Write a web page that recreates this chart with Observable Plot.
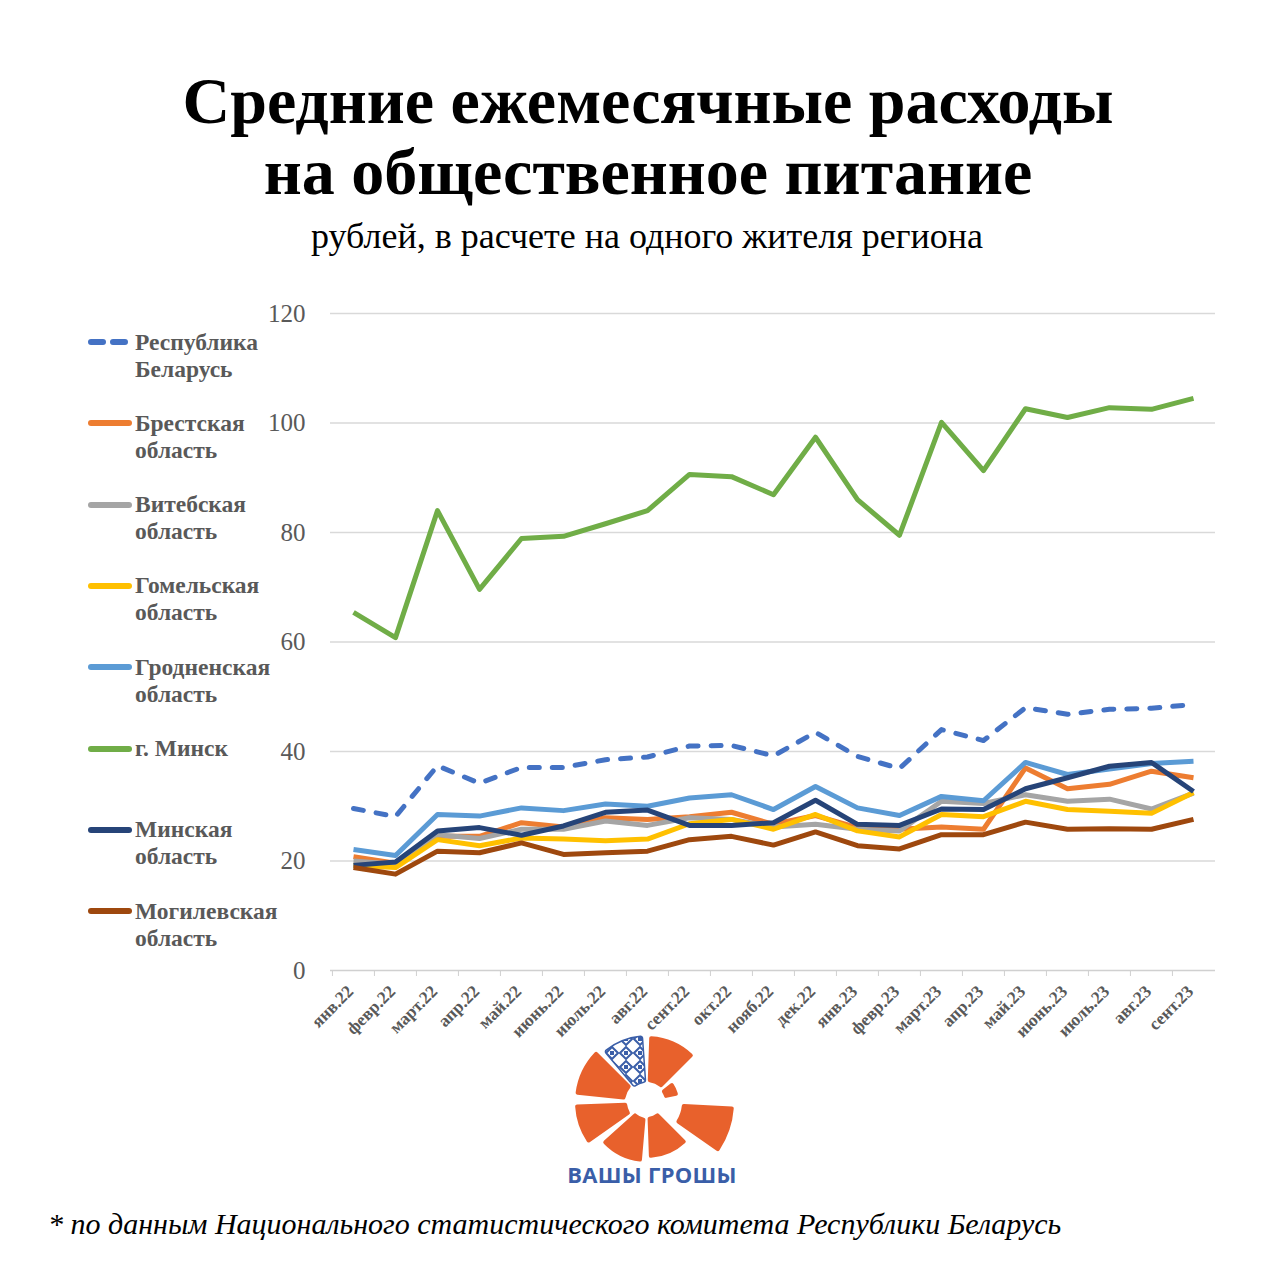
<!DOCTYPE html>
<html>
<head>
<meta charset="utf-8">
<script src="https://cdn.jsdelivr.net/npm/d3@7"></script>
<script src="https://cdn.jsdelivr.net/npm/@observablehq/plot@0.6"></script>
<style>
  html, body { margin: 0; padding: 0; background: #fff; }
  #page { position: relative; width: 1280px; height: 1280px; overflow: hidden; background: #fff; font-family: "Liberation Serif", "Times New Roman", serif; }
  .title { position: absolute; left: 0; width: 1296px; text-align: center; font-weight: bold; font-size: 66px; color: #000; line-height: 1; white-space: nowrap; }
  .subtitle { position: absolute; left: 0; width: 1294px; text-align: center; font-size: 36px; color: #000; line-height: 1; white-space: nowrap; }
  #chart { position: absolute; left: 0; top: 290px; }
  .leg { position: absolute; left: 88px; }
  .leg svg { position: absolute; left: 0; top: 0; }
  .leg div { position: absolute; left: 47px; top: -13.5px; font-weight: bold; font-size: 23.5px; line-height: 27px; color: #595959; white-space: nowrap; }
  #logo { position: absolute; left: 547px; top: 1030px; }
  #logotext { position: absolute; left: 540px; width: 224px; top: 1159px; text-align: center; font-family: "Open Sans", sans-serif; font-weight: bold; font-size: 22px; color: #3a5ea8; letter-spacing: 0.3px; }
  #foot { position: absolute; left: 48px; top: 1207px; font-style: italic; font-size: 30px; color: #000; white-space: nowrap; }
</style>
</head>
<body>
<div id="page">
  <div class="title" style="top:68px">Средние ежемесячные расходы</div>
  <div class="title" style="top:139px">на общественное питание</div>
  <div class="subtitle" style="top:218px">рублей, в расчете на одного жителя региона</div>
  <div id="chart"></div>
  <div id="legend"></div>
  <svg id="logo" width="200" height="145"></svg>
  <div id="logotext">ВАШЫ ГРОШЫ</div>
  <div id="foot">* по данным Национального статистического комитета Республики Беларусь</div>
</div>
<script>
const months = ["янв.22","февр.22","март.22","апр.22","май.22","июнь.22","июль.22","авг.22","сент.22","окт.22","нояб.22","дек.22",
  "янв.23","февр.23","март.23","апр.23","май.23","июнь.23","июль.23","авг.23","сент.23"];

const seriesNames = ["Республика Беларусь","Брестская область","Витебская область","Гомельская область","Гродненская область","г. Минск","Минская область","Могилевская область"];
const seriesColors = ["#4472C4","#ED7D31","#A5A5A5","#FFC000","#5B9BD5","#70AD47","#264478","#9E480E"];

const respublika = [29.6,28.1,37.4,34.2,37.1,37.1,38.5,39.0,41.0,41.1,39.2,43.5,39.1,36.9,44.0,42.0,48.0,46.8,47.7,47.9,48.6];
const brest      = [20.8,19.6,24.5,24.5,27.0,26.2,27.9,27.6,28.1,28.9,26.7,28.3,26.1,25.8,26.2,25.8,37.0,33.2,34.0,36.4,35.2];
const vitebsk    = [20.0,19.4,24.8,24.1,25.8,25.8,27.3,26.5,27.9,27.6,26.2,26.7,25.8,25.5,30.9,30.5,32.1,30.9,31.3,29.5,32.4];
const gomel      = [19.2,18.8,23.9,22.8,24.2,24.0,23.7,24.0,26.8,27.6,25.8,28.5,25.5,24.4,28.5,28.1,30.9,29.4,29.1,28.7,32.5];
const grodno     = [22.1,21.0,28.5,28.2,29.7,29.2,30.4,30.0,31.5,32.1,29.4,33.6,29.7,28.3,31.8,31.0,38.0,35.8,36.8,37.8,38.2];
const minskCity  = [65.4,60.8,84.0,69.6,78.9,79.3,81.6,84.0,90.6,90.2,86.9,97.4,86.0,79.5,100.1,91.3,102.6,101.0,102.8,102.5,104.5];
const minskReg   = [19.2,19.8,25.5,26.1,24.7,26.4,28.9,29.3,26.5,26.5,27.0,31.1,26.7,26.5,29.5,29.4,33.2,35.2,37.3,38.0,32.7];
const mogilev    = [18.8,17.6,21.8,21.5,23.3,21.2,21.5,21.8,23.9,24.5,22.9,25.3,22.8,22.2,24.8,24.8,27.1,25.8,25.9,25.8,27.6];

const yTicks = [0,20,40,60,80,100,120];

const seriesValues = [respublika, brest, vitebsk, gomel, grodno, minskCity, minskReg, mogilev];
const rows = [];
seriesNames.forEach((name, i) => {
  seriesValues[i].forEach((v, j) => rows.push({series: name, month: months[j], value: v}));
});

const serif = "'Liberation Serif', 'Times New Roman', serif";
const lineMarks = seriesNames.map((name, i) =>
  Plot.line(rows.filter(r => r.series === name), {
    x: "month", y: "value",
    stroke: seriesColors[i],
    strokeWidth: 5,
    strokeLinejoin: "round",
    strokeLinecap: i === 0 ? "round" : "butt",
    strokeDasharray: i === 0 ? "10,13" : null
  })
);

const chart = Plot.plot({
  width: 1280,
  height: 760,
  marginLeft: 330,
  marginRight: 65,
  marginTop: 23,
  marginBottom: 80,
  style: {fontFamily: serif, background: "transparent", overflow: "visible"},
  x: {type: "point", domain: months, padding: 0.5, label: null},
  y: {domain: [0, 120], label: null},
  marks: [
    Plot.gridY(yTicks.filter(t => t > 0), {stroke: "#d9d9d9", strokeOpacity: 1, strokeWidth: 1.3}),
    Plot.ruleY([0], {stroke: "#d0d0d0", strokeWidth: 1.3}),
    Plot.axisX({tickSize: 6, tickFormat: () => "", dx: -21.07, stroke: "#d0d0d0", strokeOpacity: 1}),
    Plot.axisY(yTicks, {tickSize: 0, tickPadding: 25, fontSize: 25, fill: "#595959", fontFamily: serif}),
    Plot.axisX({tickSize: 0, tickPadding: 18, tickRotate: -45, fontSize: 17.5, fontWeight: "bold", fill: "#595959", fontFamily: serif, dx: -3}),
    ...lineMarks
  ]
});
document.getElementById("chart").appendChild(chart);

// Legend
const legend = document.getElementById("legend");
seriesNames.forEach((name, i) => {
  const item = document.createElement("div");
  item.className = "leg";
  item.style.top = (342 + i * 81.3) + "px";
  const parts = name.split(" ");
  const label = name === "г. Минск" ? name : parts[0] + "<br>" + parts.slice(1).join(" ");
  const dash = i === 0 ? 'stroke-dasharray="12,10" stroke-linecap="round"' : 'stroke-linecap="round"';
  item.innerHTML = `<svg width="50" height="8" style="top:-4px;overflow:visible"><line x1="3" y1="0" x2="41" y2="0" stroke="${seriesColors[i]}" stroke-width="6" ${dash} transform="translate(0,4)"/></svg><div>${label}</div>`;
  legend.appendChild(item);
});

// Logo (decoration)
const logo = d3.select("#logo");
const g = logo.append("g").attr("transform", "translate(100,72)");
const deg = Math.PI / 180;
const pieces = [
  [2, 45, 20, 66], [52, 78, 18, 32], [93, 125, 35, 87], [135, 178, 15, 56],
  [185, 228, 16, 60], [235, 268, 20, 72], [276, 315, 22, 72]
];
const arc = d3.arc().cornerRadius(2);
pieces.forEach(([a0, a1, r0, r1]) => {
  g.append("path").attr("d", arc({startAngle: a0 * deg, endAngle: a1 * deg, innerRadius: r0, outerRadius: r1})).attr("fill", "#E8612C");
});
const orn = arc({startAngle: 320 * deg, endAngle: 356 * deg, innerRadius: 20, outerRadius: 66});
const defs = logo.append("defs");
const pat = defs.append("pattern").attr("id", "orn").attr("width", 14).attr("height", 14).attr("patternUnits", "userSpaceOnUse");
pat.append("rect").attr("width", 14).attr("height", 14).attr("fill", "#ffffff");
pat.append("path").attr("d", "M7 1 L13 7 L7 13 L1 7 Z").attr("fill", "none").attr("stroke", "#3a5ea8").attr("stroke-width", 2);
pat.append("rect").attr("x", 5).attr("y", 5).attr("width", 4).attr("height", 4).attr("fill", "#3a5ea8");
g.append("path").attr("d", orn).attr("fill", "url(#orn)").attr("stroke", "#3a5ea8").attr("stroke-width", 1.5);
</script>
</body>
</html>
